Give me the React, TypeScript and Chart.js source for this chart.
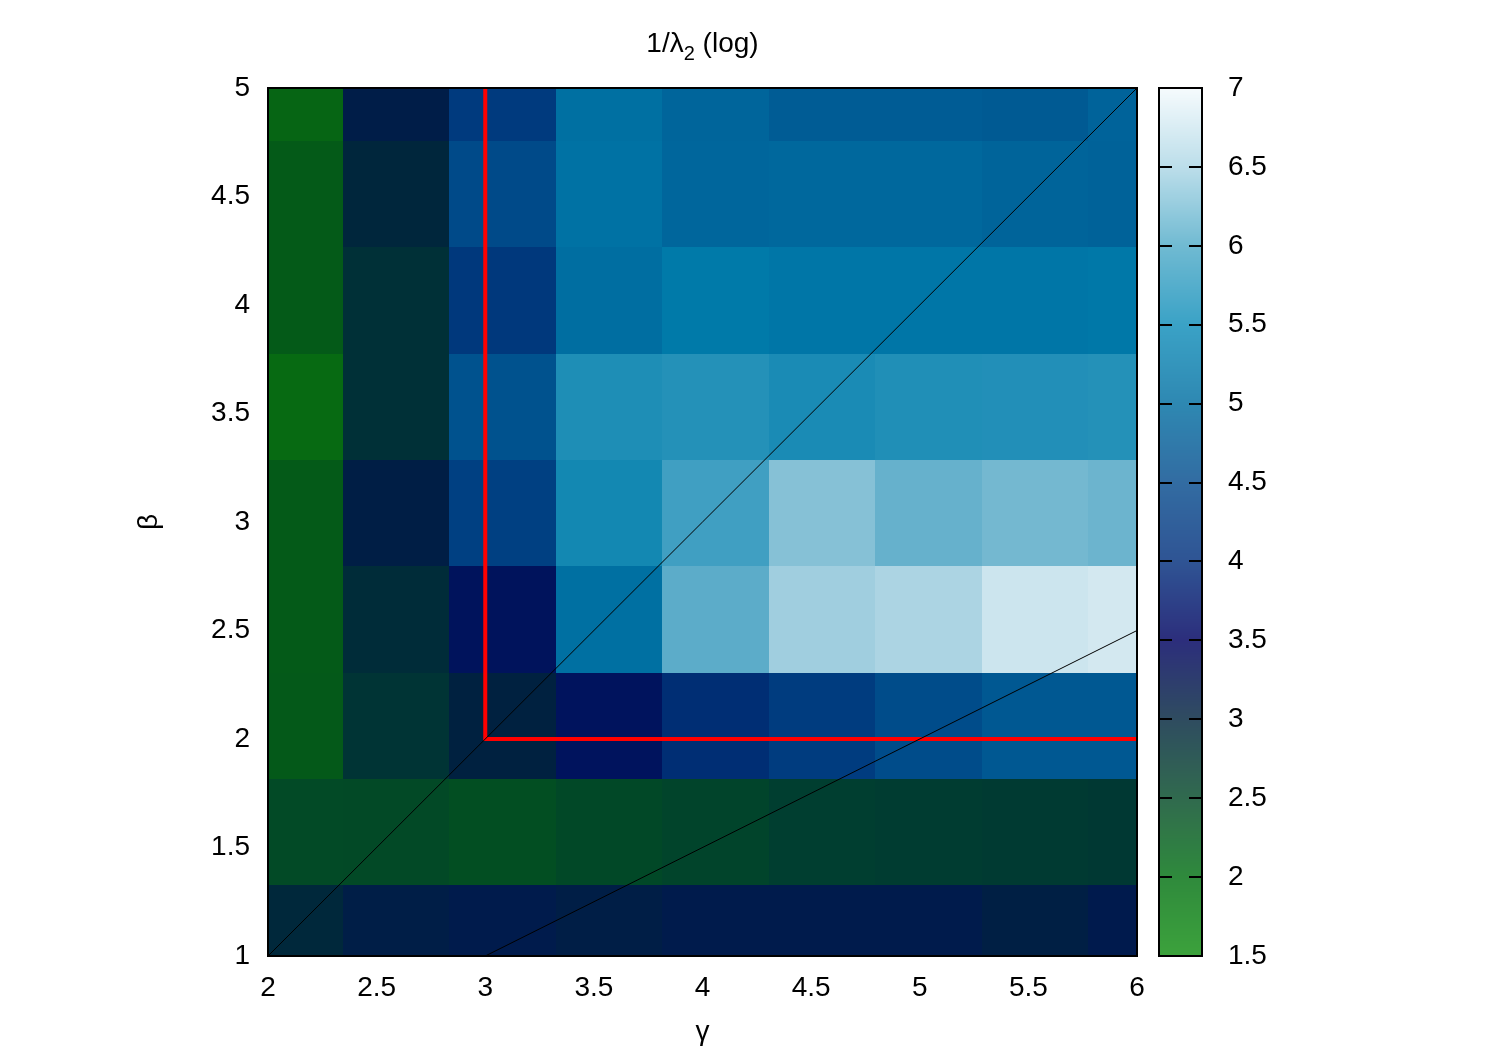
import React, { useEffect, useRef } from "react";
import { Chart, registerables } from "chart.js";

Chart.register(...registerables);

// ---- data ----
const gammaCenters = [2.1, 2.59, 3.08, 3.57, 4.06, 4.55, 5.04, 5.53, 6.02];
const betaCenters = [1.08, 1.57, 2.06, 2.55, 3.04, 3.53, 4.02, 4.51, 5.0];

// log(1/lambda2), one row per beta (bottom to top), one value per gamma
const rowBeta1_08 = [2.89, 3.14, 3.22, 3.12, 3.22, 3.22, 3.22, 3.1, 3.24];
const rowBeta1_57 = [2.29, 2.3, 2.21, 2.32, 2.39, 2.5, 2.53, 2.57, 2.61];
const rowBeta2_06 = [2.02, 2.68, 3.03, 3.48, 3.85, 4.03, 4.25, 4.42, 4.42];
const rowBeta2_55 = [2.0, 2.82, 3.47, 4.78, 5.79, 6.37, 6.47, 6.72, 6.77];
const rowBeta3_04 = [2.0, 3.11, 4.08, 5.16, 5.55, 6.15, 5.88, 6.0, 5.93];
const rowBeta3_53 = [1.75, 2.75, 4.33, 5.26, 5.31, 5.22, 5.28, 5.29, 5.31];
const rowBeta4_02 = [2.0, 2.75, 3.97, 4.75, 4.94, 4.88, 4.88, 4.88, 4.91];
const rowBeta4_51 = [2.0, 2.93, 4.22, 4.81, 4.63, 4.66, 4.66, 4.59, 4.56];
const rowBeta5_00 = [1.83, 3.15, 4.0, 4.78, 4.61, 4.47, 4.47, 4.44, 4.58];
const valueRows = [rowBeta1_08, rowBeta1_57, rowBeta2_06, rowBeta2_55, rowBeta3_04, rowBeta3_53, rowBeta4_02, rowBeta4_51, rowBeta5_00];

// reference lines
const diagGamma = [2, 6];
const diagBeta = [1, 5];
const halfGamma = [3, 6];
const halfBeta = [1, 2.5];
const redGamma = [3, 3, 6];
const redBeta = [5, 2, 2];

// ticks
const xTicks = [2, 2.5, 3, 3.5, 4, 4.5, 5, 5.5, 6];
const yTicks = [1, 1.5, 2, 2.5, 3, 3.5, 4, 4.5, 5];
const cbTicks = [1.5, 2, 2.5, 3, 3.5, 4, 4.5, 5, 5.5, 6, 6.5, 7];
const cbMin = 1.5;
const cbMax = 7;

// palettes
const paletteStops = [1.5, 2, 2.5, 3, 3.5, 4, 4.5, 5, 5.5, 6, 6.5, 7];
const cellPalette = ["#0a7a0c", "#045a18", "#003e30", "#00223e", "#00125e", "#003a7e", "#005e96", "#007eac", "#3a9cc0", "#74b8d0", "#b0d6e4", "#f0f8fb"];
const barPalette = ["#3ca23c", "#2f8a3c", "#306a4e", "#2f4c60", "#2c2e7c", "#2f5494", "#326ca2", "#2e88b2", "#3aa2c6", "#70bad2", "#bcdeea", "#f6fbfd"];

const FONT = '"Liberation Sans", Arial, Helvetica, sans-serif';

function hexToRgb(h: string) {
  const n = parseInt(h.slice(1), 16);
  return [(n >> 16) & 255, (n >> 8) & 255, n & 255];
}

function paletteColor(colors: string[], v: number) {
  const s = paletteStops;
  let t = Math.max(s[0], Math.min(s[s.length - 1], v));
  let i = 0;
  while (i < s.length - 2 && t > s[i + 1]) i++;
  const f = (t - s[i]) / (s[i + 1] - s[i]);
  const a = hexToRgb(colors[i]);
  const b = hexToRgb(colors[i + 1]);
  const c = a.map((av, k) => Math.round(av + (b[k] - av) * f));
  return `rgb(${c[0]},${c[1]},${c[2]})`;
}

function edges(c: number[]) {
  const e: number[] = [];
  e.push(c[0] - (c[1] - c[0]) / 2);
  for (let i = 1; i < c.length; i++) e.push((c[i - 1] + c[i]) / 2);
  e.push(c[c.length - 1] + (c[c.length - 1] - c[c.length - 2]) / 2);
  return e;
}

const heatmapPlugin = {
  id: "heatmap",
  beforeDatasetsDraw(chart: any) {
    const { ctx, chartArea } = chart;
    const xs = chart.scales.x;
    const ys = chart.scales.y;
    ctx.save();
    ctx.beginPath();
    ctx.rect(chartArea.left, chartArea.top, chartArea.right - chartArea.left, chartArea.bottom - chartArea.top);
    ctx.clip();
    const ge = edges(gammaCenters);
    const be = edges(betaCenters);
    valueRows.forEach((row, j) => {
      row.forEach((v, i) => {
        const x0 = Math.round(xs.getPixelForValue(ge[i]));
        const x1 = Math.round(xs.getPixelForValue(ge[i + 1]));
        const y0 = Math.round(ys.getPixelForValue(be[j + 1]));
        const y1 = Math.round(ys.getPixelForValue(be[j]));
        ctx.fillStyle = paletteColor(cellPalette, v);
        ctx.fillRect(x0, y0, x1 - x0, y1 - y0);
      });
    });
    ctx.restore();
  },
};

const overlayPlugin = {
  id: "overlay",
  afterDraw(chart: any) {
    const { ctx, chartArea } = chart;
    const cb = chart.scales.cb;
    const cx = (chartArea.left + chartArea.right) / 2;
    ctx.save();

    // plot frame
    ctx.strokeStyle = "#000";
    ctx.lineWidth = 2;
    ctx.strokeRect(chartArea.left, chartArea.top, chartArea.right - chartArea.left, chartArea.bottom - chartArea.top);

    // colour bar
    const bl = chartArea.right + 22;
    const bw = 43;
    const top = Math.round(cb.getPixelForValue(cbMax));
    const bot = Math.round(cb.getPixelForValue(cbMin));
    for (let py = top; py < bot; py++) {
      const v = cb.getValueForPixel(py + 0.5);
      ctx.fillStyle = paletteColor(barPalette, v);
      ctx.fillRect(bl, py, bw, 1);
    }
    ctx.strokeStyle = "#000";
    ctx.lineWidth = 2;
    ctx.strokeRect(bl, top, bw, bot - top);
    ctx.lineWidth = 2;
    cbTicks.forEach((t) => {
      const py = Math.round(cb.getPixelForValue(t));
      ctx.beginPath();
      ctx.moveTo(bl, py);
      ctx.lineTo(bl + 13, py);
      ctx.moveTo(bl + bw - 13, py);
      ctx.lineTo(bl + bw, py);
      ctx.stroke();
    });

    // title 1/λ2 (log)
    ctx.fillStyle = "#000";
    ctx.textBaseline = "alphabetic";
    ctx.textAlign = "left";
    const big = `28px ${FONT}`;
    const small = `20px ${FONT}`;
    ctx.font = big;
    const w1 = ctx.measureText("1/\u03bb").width;
    const w3 = ctx.measureText(" (log)").width;
    ctx.font = small;
    const w2 = ctx.measureText("2").width;
    let tx = cx - (w1 + w2 + w3) / 2;
    const ty = chartArea.top - 36;
    ctx.font = big;
    ctx.fillText("1/\u03bb", tx, ty);
    tx += w1;
    ctx.font = small;
    ctx.fillText("2", tx, ty + 8);
    tx += w2;
    ctx.font = big;
    ctx.fillText(" (log)", tx, ty);

    // axis titles
    ctx.textAlign = "center";
    ctx.font = big;
    ctx.fillText("\u03b3", cx, chartArea.bottom + 84);
    ctx.translate(chartArea.left - 111, (chartArea.top + chartArea.bottom) / 2);
    ctx.rotate(-Math.PI / 2);
    ctx.fillText("\u03b2", 0, 0);
    ctx.restore();
  },
};

function toPoints(gx: number[], by: number[]) {
  return gx.map((g, i) => ({ x: g, y: by[i] }));
}

export default function App() {
  const ref = useRef<HTMLCanvasElement | null>(null);
  useEffect(() => {
    document.body.style.margin = "0";
    const canvas = ref.current;
    if (!canvas) return;
    const tickFont = { family: FONT, size: 28 };
    const fmt = (v: any) => String(v);
    const chart = new Chart(canvas, {
      type: "scatter",
      data: {
        datasets: [
          { type: "line", data: toPoints(diagGamma, diagBeta), borderColor: "#000", borderWidth: 1, pointRadius: 0, fill: false, tension: 0 } as any,
          { type: "line", data: toPoints(halfGamma, halfBeta), borderColor: "#000", borderWidth: 1, pointRadius: 0, fill: false, tension: 0 } as any,
          { type: "line", data: toPoints(redGamma, redBeta), borderColor: "#ff0000", borderWidth: 4, pointRadius: 0, fill: false, tension: 0, borderJoinStyle: "miter" } as any,
        ],
      },
      options: {
        animation: false,
        responsive: false,
        layout: { padding: { top: 88, left: 0, right: 0, bottom: 0 } },
        plugins: { legend: { display: false }, tooltip: { enabled: false }, title: { display: false } },
        scales: {
          x: {
            type: "linear",
            position: "bottom",
            min: 2,
            max: 6,
            grid: { display: false, drawTicks: false },
            border: { display: false },
            ticks: { font: tickFont, color: "#000", padding: 15, autoSkip: false, maxRotation: 0, callback: fmt },
            afterBuildTicks: (s: any) => { s.ticks = xTicks.map((v) => ({ value: v })); },
            afterFit: (s: any) => { s.height = 94; },
          },
          y: {
            type: "linear",
            position: "left",
            min: 1,
            max: 5,
            grid: { display: false, drawTicks: false },
            border: { display: false },
            ticks: { font: tickFont, color: "#000", padding: 18, autoSkip: false, callback: fmt },
            afterBuildTicks: (s: any) => { s.ticks = yTicks.map((v) => ({ value: v })); },
            afterFit: (s: any) => { s.width = 268; },
          },
          cb: {
            type: "linear",
            axis: "y",
            position: "right",
            min: cbMin,
            max: cbMax,
            grid: { display: false, drawTicks: true, tickLength: 91, color: "rgba(0,0,0,0)" },
            border: { display: false },
            ticks: { font: tickFont, color: "#000", padding: 0, autoSkip: false, callback: fmt },
            afterBuildTicks: (s: any) => { s.ticks = cbTicks.map((v) => ({ value: v })); },
            afterFit: (s: any) => { s.width = 363; },
          },
        },
      } as any,
      plugins: [heatmapPlugin, overlayPlugin],
    });
    return () => chart.destroy();
  }, []);
  return (
    <div style={{ width: 1500, height: 1050, background: "#fff" }}>
      <canvas ref={ref} width={1500} height={1050} style={{ display: "block" }} />
    </div>
  );
}
